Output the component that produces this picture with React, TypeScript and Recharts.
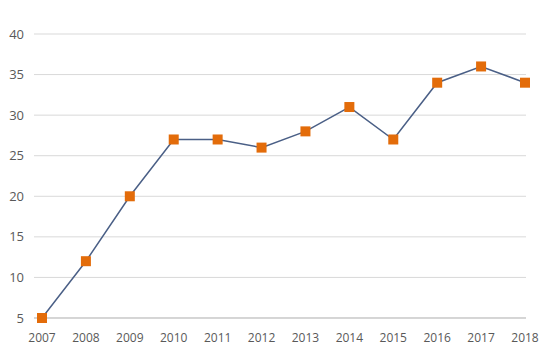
import { CartesianGrid, Line, LineChart, XAxis, YAxis } from "recharts";

const years = ["2007", "2008", "2009", "2010", "2011", "2012", "2013", "2014", "2015", "2016", "2017", "2018"];
const values = [5, 12, 20, 27, 27, 26, 28, 31, 27, 34, 36, 34];
const yTicks = [5, 10, 15, 20, 25, 30, 35, 40];

const data = years.map((year, i) => ({ year, value: values[i] }));

// square orange marker for each point
const SquareDot = (props: any) => {
  const { cx, cy, index } = props;
  if (cx == null || cy == null) return null;
  return <rect key={`dot-${index}`} x={cx - 5} y={cy - 5} width={10} height={10} fill="#e36c0a" />;
};

export default function App() {
  return (
    <div style={{ fontFamily: "'Open Sans', sans-serif" }}>
      <LineChart width={542} height={355} data={data} margin={{ top: 26, right: 24, bottom: 15, left: 0 }}>
        <CartesianGrid vertical={false} stroke="#d9d9d9" />
        <XAxis
          dataKey="year"
          padding={{ left: 8, right: 1 }}
          tickLine={false}
          axisLine={{ stroke: "#bfbfbf" }}
          tickSize={0}
          tickMargin={15}
          height={30}
          tick={{ fill: "#595959", fontSize: 12 }}
        />
        <YAxis
          domain={[5, 40]}
          ticks={yTicks}
          width={26}
          axisLine={false}
          tickLine={false}
          tickSize={0}
          tickMargin={10}
          tick={{ fill: "#595959", fontSize: 13 }}
        />
        <Line
          dataKey="value"
          stroke="#4a5f86"
          strokeWidth={1.5}
          dot={<SquareDot />}
          activeDot={false}
          isAnimationActive={false}
        />
      </LineChart>
    </div>
  );
}
